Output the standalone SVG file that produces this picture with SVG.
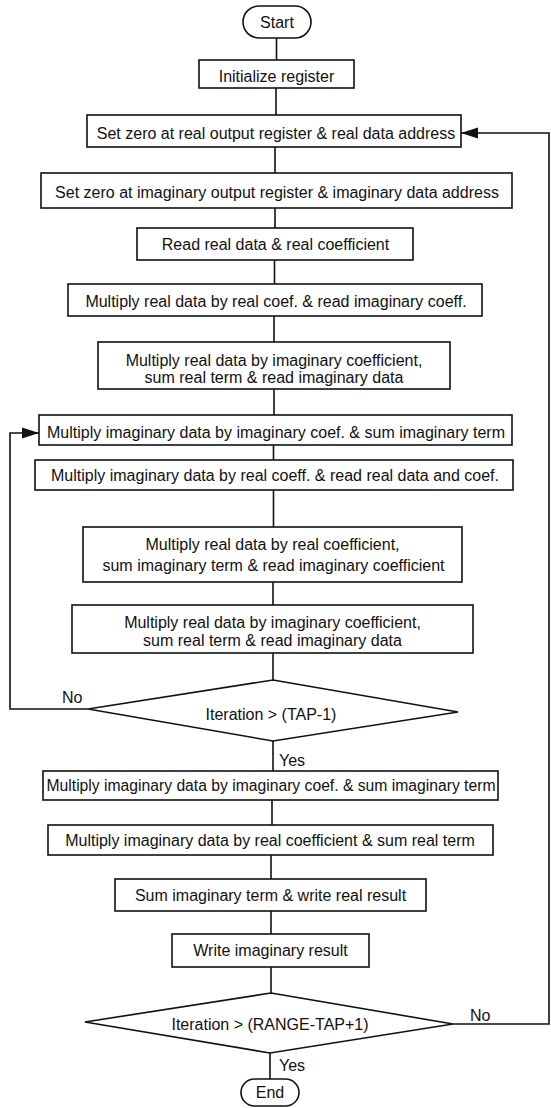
<svg xmlns="http://www.w3.org/2000/svg" width="551" height="1108" viewBox="0 0 551 1108">
<defs>
<style>
.box{fill:#fff;stroke:#111;stroke-width:1.6}
.ln{fill:none;stroke:#111;stroke-width:1.6}
text{font-family:"Liberation Sans",Arial,sans-serif;font-size:16px;fill:#111;text-anchor:middle}
.lbl{text-anchor:start}
</style>
<marker id="ah" markerUnits="userSpaceOnUse" markerWidth="18" markerHeight="12" refX="17" refY="6" orient="auto">
<path d="M0,0.5 L17,6 L0,11.5 z" fill="#111"/>
</marker>
</defs>
<rect width="551" height="1108" fill="#fff"/>
<g id="connectors">
<line class="ln" x1="276.5" y1="38" x2="276.5" y2="60"/>
<line class="ln" x1="276" y1="88" x2="276" y2="115"/>
<line class="ln" x1="275" y1="147" x2="275" y2="173"/>
<line class="ln" x1="275" y1="208" x2="275" y2="228"/>
<line class="ln" x1="274.5" y1="260" x2="274.5" y2="284"/>
<line class="ln" x1="274" y1="316" x2="274" y2="342"/>
<line class="ln" x1="274" y1="389" x2="274" y2="415"/>
<line class="ln" x1="273.5" y1="445" x2="273.5" y2="460"/>
<line class="ln" x1="273.5" y1="490" x2="273.5" y2="527"/>
<line class="ln" x1="273" y1="582" x2="273" y2="605"/>
<line class="ln" x1="273" y1="653" x2="273" y2="680"/>
<line class="ln" x1="273" y1="741" x2="273" y2="771"/>
<line class="ln" x1="272" y1="800" x2="272" y2="825"/>
<line class="ln" x1="271" y1="855" x2="271" y2="879"/>
<line class="ln" x1="271" y1="911" x2="271" y2="934"/>
<line class="ln" x1="271" y1="967" x2="271" y2="993"/>
<line class="ln" x1="270" y1="1053" x2="270" y2="1079"/>
<polyline class="ln" points="88,709 10,709 10,433 39,433" marker-end="url(#ah)"/>
<polyline class="ln" points="453,1024 549,1024 549,133 461,133" marker-end="url(#ah)"/>
<text class="lbl" x="62" y="703">No</text>
<text class="lbl" x="279" y="766">Yes</text>
<text class="lbl" x="470" y="1021">No</text>
<text class="lbl" x="279" y="1071">Yes</text>
</g>
<g id="start"><rect class="box" x="243" y="6" width="68" height="32" rx="16"/><text x="277" y="28">Start</text></g>
<g id="init"><rect class="box" x="199" y="60" width="155" height="28"/><text x="276.5" y="82">Initialize register</text></g>
<g id="zero-real"><rect class="box" x="87" y="115" width="374" height="32"/><text x="276" y="139">Set zero at real output register &amp; real data address</text></g>
<g id="zero-imag"><rect class="box" x="41" y="173" width="471" height="35"/><text x="277" y="198">Set zero at imaginary output register &amp; imaginary data address</text></g>
<g id="read-real"><rect class="box" x="137" y="228" width="276" height="32"/><text x="275.5" y="250">Read real data &amp; real coefficient</text></g>
<g id="mul-rr"><rect class="box" x="68" y="284" width="414" height="32"/><text x="276" y="307">Multiply real data by real coef. &amp; read imaginary coeff.</text></g>
<g id="mul-ri-1"><rect class="box" x="98" y="342" width="352" height="47"/><text x="274" y="366">Multiply real data by imaginary coefficient,</text><text x="274" y="383">sum real term &amp; read imaginary data</text></g>
<g id="mul-ii-1"><rect class="box" x="39" y="415" width="473" height="30"/><text x="276" y="438">Multiply imaginary data by imaginary coef. &amp; sum imaginary term</text></g>
<g id="mul-ir-1"><rect class="box" x="35" y="460" width="478" height="30"/><text x="275" y="481">Multiply imaginary data by real coeff. &amp; read real data and coef.</text></g>
<g id="mul-rr-2"><rect class="box" x="83" y="527" width="379" height="55"/><text x="272.5" y="550">Multiply real data by real coefficient,</text><text x="273.5" y="571">sum imaginary term &amp; read imaginary coefficient</text></g>
<g id="mul-ri-2"><rect class="box" x="72" y="605" width="401" height="48"/><text x="272.5" y="628">Multiply real data by imaginary coefficient,</text><text x="272.5" y="646">sum real term &amp; read imaginary data</text></g>
<g id="dec-tap"><polygon class="box" points="273,680 458,712 273,741 88,709"/><text x="271" y="720">Iteration &gt; (TAP-1)</text></g>
<g id="mul-ii-2"><rect class="box" x="43" y="771" width="455" height="29"/><text x="271" y="791" textLength="449" lengthAdjust="spacingAndGlyphs">Multiply imaginary data by imaginary coef. &amp; sum imaginary term</text></g>
<g id="mul-ir-2"><rect class="box" x="48" y="825" width="445" height="30"/><text x="270" y="846">Multiply imaginary data by real coefficient &amp; sum real term</text></g>
<g id="sum-write"><rect class="box" x="115" y="879" width="311" height="32"/><text x="270.5" y="901">Sum imaginary term &amp; write real result</text></g>
<g id="write-imag"><rect class="box" x="172" y="934" width="197" height="33"/><text x="270.5" y="956">Write imaginary result</text></g>
<g id="dec-range"><polygon class="box" points="271,993 453,1024 270,1053 85,1022"/><text x="270" y="1030">Iteration &gt; (RANGE-TAP+1)</text></g>
<g id="end"><rect class="box" x="241" y="1079" width="58" height="27" rx="13.5"/><text x="270" y="1098">End</text></g>
</svg>
